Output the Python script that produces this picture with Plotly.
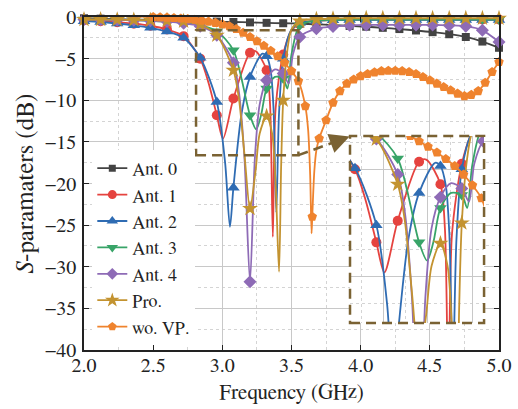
import numpy as np
import plotly.graph_objects as go

# ---------------- data (frequency in GHz, S-parameter in dB) ----------------
ant0_f = [2.00, 2.12, 2.24, 2.36, 2.48, 2.60, 2.72, 2.84, 2.96, 3.08, 3.20, 3.32, 3.44,
          3.56, 3.68, 3.80, 3.92, 4.04, 4.16, 4.28, 4.40, 4.52, 4.64, 4.76, 4.88, 5.00]
ant0_db = [-0.15, -0.2, -0.25, -0.3, -0.35, -0.4, -0.45, -0.5, -0.55, -0.6, -0.65, -0.7, -0.75,
           -0.8, -0.88, -0.97, -1.07, -1.17, -1.3, -1.45, -1.62, -1.82, -2.07, -2.4, -2.95, -3.7]

ant1_f = [2.00, 2.12, 2.24, 2.36, 2.48, 2.60, 2.72, 2.84, 2.90, 2.96, 3.005, 3.08, 3.20, 3.24,
          3.32, 3.345, 3.365, 3.385, 3.44, 3.50,
          3.56, 3.68, 3.80, 3.92, 4.04, 4.16, 4.28, 4.40, 4.52, 4.64, 4.76, 4.88, 5.00]
ant1_db = [-0.4, -0.5, -0.62, -0.8, -1.05, -1.5, -2.3, -5.0, -7.9, -11.8, -14.6, -9.8, -4.3, -4.1,
           -6.4, -10.5, -26.4, -11.0, -4.5, -1.6,
           -0.8, -0.45, -0.35, -0.3, -0.3, -0.3, -0.3, -0.3, -0.3, -0.3, -0.3, -0.3, -0.3]

ant2_f = [2.00, 2.12, 2.24, 2.36, 2.48, 2.60, 2.72, 2.84, 2.96, 3.02, 3.055, 3.08, 3.14, 3.20,
          3.29, 3.32, 3.35, 3.37, 3.39, 3.41, 3.44, 3.50,
          3.56, 3.68, 3.80, 3.92, 4.04, 4.16, 4.28, 4.40, 4.52, 4.64, 4.76, 4.88, 5.00]
ant2_db = [-0.5, -0.6, -0.78, -1.0, -1.3, -1.75, -2.5, -4.9, -10.2, -17.5, -25.2, -20.5, -11.5, -7.2,
           -4.4, -4.7, -6.5, -11.0, -23.5, -11.5, -5.0, -1.5,
           -0.7, -0.45, -0.38, -0.35, -0.35, -0.35, -0.35, -0.35, -0.35, -0.35, -0.35, -0.35, -0.35]

ant3_f = [2.00, 2.12, 2.24, 2.36, 2.48, 2.60, 2.72, 2.84, 2.96, 3.08, 3.20, 3.245, 3.28, 3.32,
          3.38, 3.44, 3.47, 3.50,
          3.56, 3.68, 3.80, 3.92, 4.04, 4.16, 4.28, 4.40, 4.52, 4.64, 4.76, 4.88, 5.00]
ant3_db = [-0.3, -0.32, -0.35, -0.4, -0.45, -0.55, -0.7, -1.0, -1.7, -4.0, -11.8, -13.5, -11.8, -8.6,
           -7.2, -7.4, -8.6, -4.5,
           -1.0, -0.45, -0.35, -0.3, -0.3, -0.3, -0.3, -0.3, -0.3, -0.3, -0.3, -0.3, -0.3]

ant4_f = [2.00, 2.12, 2.24, 2.36, 2.48, 2.60, 2.72, 2.84, 2.96, 3.08, 3.12, 3.16, 3.20, 3.235,
          3.27, 3.32, 3.38, 3.44, 3.48, 3.51,
          3.56, 3.68, 3.80, 3.92, 4.04, 4.16, 4.28, 4.40, 4.52, 4.64, 4.76, 4.88, 5.00]
ant4_db = [-0.3, -0.32, -0.35, -0.4, -0.45, -0.55, -0.75, -1.1, -2.2, -5.5, -9.0, -17.0, -31.8, -17.0,
           -10.5, -7.6, -6.3, -6.8, -8.0, -4.5,
           -2.4, -1.4, -1.15, -1.0, -0.95, -0.95, -0.95, -0.95, -0.95, -1.0, -1.1, -1.6, -3.0]

pro_f = [2.00, 2.12, 2.24, 2.36, 2.48, 2.60, 2.72, 2.84, 2.96, 3.08, 3.12, 3.16, 3.20, 3.24,
         3.27, 3.32, 3.36, 3.385, 3.41, 3.425, 3.44, 3.47, 3.50,
         3.56, 3.68, 3.80, 3.92, 4.04, 4.16, 4.28, 4.40, 4.52, 4.64, 4.76, 4.88, 5.00]
pro_db = [-0.3, -0.3, -0.32, -0.35, -0.38, -0.42, -0.5, -0.9, -2.2, -6.4, -9.8, -16.5, -23.0, -18.5,
          -14.0, -11.9, -14.0, -20.0, -30.6, -18.0, -10.0, -4.0, -1.5,
          -0.5, -0.25, -0.2, -0.15, -0.15, -0.15, -0.15, -0.15, -0.15, -0.15, -0.15, -0.15, -0.15]

wovp_f = [2.00, 2.05, 2.10, 2.15, 2.20, 2.25, 2.30, 2.35, 2.40, 2.45,
          2.50, 2.55, 2.60, 2.65, 2.70, 2.75, 2.80, 2.85, 2.90, 2.95,
          3.00, 3.05, 3.10, 3.15, 3.20, 3.25, 3.30, 3.35, 3.40, 3.45,
          3.50, 3.55, 3.60, 3.62, 3.635, 3.645, 3.65, 3.665, 3.68, 3.70,
          3.75, 3.80, 3.85, 3.90, 3.95, 4.00, 4.05, 4.10, 4.15, 4.20,
          4.25, 4.30, 4.35, 4.40, 4.45, 4.50, 4.55, 4.60, 4.65, 4.70,
          4.75, 4.80, 4.85, 4.90, 4.95, 5.00]
wovp_db = [0.1, 0.1, 0.1, 0.1, 0.1, 0.1, 0.1, 0.08, 0.05, 0.03,
           0.0, -0.03, -0.07, -0.12, -0.18, -0.25, -0.33, -0.43, -0.55, -0.7,
           -0.88, -1.1, -1.45, -1.9, -2.4, -2.9, -3.45, -4.05, -4.7, -5.5,
           -6.5, -7.7, -10.7, -13.5, -19.0, -26.0, -24.0, -18.5, -16.0, -14.6,
           -12.4, -10.3, -8.9, -8.0, -7.5, -7.1, -6.85, -6.65, -6.5, -6.45,
           -6.45, -6.5, -6.6, -6.85, -7.2, -7.6, -8.0, -8.4, -8.8, -9.2,
           -9.5, -9.35, -8.9, -7.9, -6.6, -5.4]

names = ["Ant. 0", "Ant. 1", "Ant. 2", "Ant. 3", "Ant. 4", "Pro.", "wo. VP."]
freqs = [ant0_f, ant1_f, ant2_f, ant3_f, ant4_f, pro_f, wovp_f]
values = [ant0_db, ant1_db, ant2_db, ant3_db, ant4_db, pro_db, wovp_db]
marker_step = [0.12, 0.12, 0.12, 0.12, 0.12, 0.12, 0.05]

# ---------------- styles ----------------
colors = ["#434343", "#e5433f", "#2f6cb3", "#38a468", "#8e6bb6", "#c39330", "#ef832e"]
symbols = ["square", "circle", "triangle-up", "triangle-down", "diamond", "star", "pentagon"]
msizes = [8, 10, 11, 11, 10, 12, 10]
BOX = "#7a6233"
FONT = "Nimbus Roman, FreeSerif, Liberation Serif, Tinos, serif"
INK = "#222222"

fig = go.Figure()

# main panel (x, y) and zoomed inset (x2, y2) draw the same series
for xa, ya, clip in (("x", "y", False), ("x2", "y2", True)):
    for i, name in enumerate(names):
        f = np.array(freqs[i], dtype=float)
        v = np.array(values[i], dtype=float)
        assert len(f) == len(v)
        k = (f - 2.0) / marker_step[i]
        on = np.isclose(k, np.round(k), atol=1e-6)
        fig.add_trace(go.Scatter(
            x=f, y=v, mode="lines", xaxis=xa, yaxis=ya, cliponaxis=clip,
            line=dict(color=colors[i], width=1.8, shape="spline", smoothing=0.8),
            showlegend=False, hoverinfo="skip"))
        fig.add_trace(go.Scatter(
            x=f[on], y=v[on], mode="markers", xaxis=xa, yaxis=ya, cliponaxis=clip,
            marker=dict(symbol=symbols[i], size=msizes[i], color=colors[i],
                        line=dict(width=0)),
            showlegend=False, hoverinfo="skip"))

# legend entries
for i, name in enumerate(names):
    fig.add_trace(go.Scatter(
        x=[None], y=[None], mode="lines+markers", name=name,
        line=dict(color=colors[i], width=1.8),
        marker=dict(symbol=symbols[i], size=msizes[i] - 1, color=colors[i])))

grid_major = "#c8c8c8"
grid_minor = "#d4d4d4"
axis_common = dict(showline=True, linecolor=INK, linewidth=1.5, mirror="ticks",
                   ticks="inside", ticklen=5, tickwidth=1.2, tickcolor=INK,
                   showgrid=True, gridcolor=grid_major, gridwidth=1, zeroline=False,
                   automargin=False,
                   tickfont=dict(family=FONT, size=20, color=INK))

fig.update_layout(
    width=518, height=409,
    margin=dict(l=84, r=19, t=17, b=59),
    paper_bgcolor="white", plot_bgcolor="white",
    font=dict(family=FONT, size=20, color=INK),
    xaxis=dict(range=[2, 5], dtick=0.5, tick0=2, tickformat=".1f", ticklabelstandoff=-4,
               minor=dict(dtick=0.25, showgrid=True, gridcolor=grid_minor, griddash="dot", gridwidth=1),
               title=dict(text="Frequency (GHz)", font=dict(family=FONT, size=21), standoff=10),
               **axis_common),
    yaxis=dict(range=[-40, 0], dtick=5, tick0=0, ticklabelstandoff=2,
               minor=dict(dtick=2.5, showgrid=True, gridcolor=grid_minor, griddash="dot", gridwidth=1),
               title=dict(text="<i>S</i>-paramaters (dB)", font=dict(family=FONT, size=25), standoff=4),
               **axis_common),
    xaxis2=dict(domain=[0.641, 0.964], anchor="y2", range=[2.812, 3.565], dtick=0.25, tick0=2,
                showticklabels=False, showline=False, zeroline=False, ticks="",
                showgrid=True, gridcolor=grid_major,
                minor=dict(dtick=0.125, showgrid=True, gridcolor=grid_minor, griddash="dot")),
    yaxis2=dict(domain=[0.081, 0.643], anchor="x2", range=[-19.3, -1.9], dtick=5, tick0=0,
                showticklabels=False, showline=False, zeroline=False, ticks="",
                showgrid=True, gridcolor=grid_major,
                minor=dict(dtick=2.5, showgrid=True, gridcolor=grid_minor, griddash="dot")),
    legend=dict(x=0.02, y=0.015, xanchor="left", yanchor="bottom",
                bgcolor="white", borderwidth=0, tracegroupgap=0,
                font=dict(family=FONT, size=18, color=INK)),
    shapes=[
        dict(type="rect", xref="x", yref="y", x0=2.81, x1=3.55, y0=-16.6, y1=-1.6,
             line=dict(color=BOX, width=2.5, dash="10px,6px")),
        dict(type="rect", xref="x2 domain", yref="y2 domain", x0=0, x1=1, y0=0, y1=1,
             line=dict(color=BOX, width=2.5, dash="10px,6px")),
        dict(type="line", xref="x", yref="y", x0=3.55, y0=-16.6, x1=3.83, y1=-14.9,
             line=dict(color=BOX, width=2.5, dash="10px,6px")),
    ],
    annotations=[
        dict(x=3.92, y=-14.35, xref="x", yref="y", ax=-16, ay=6, text="",
             showarrow=True, arrowhead=2, arrowsize=1.6, arrowwidth=2.5, arrowcolor=BOX),
    ],
)

fig.write_html("out.html")
